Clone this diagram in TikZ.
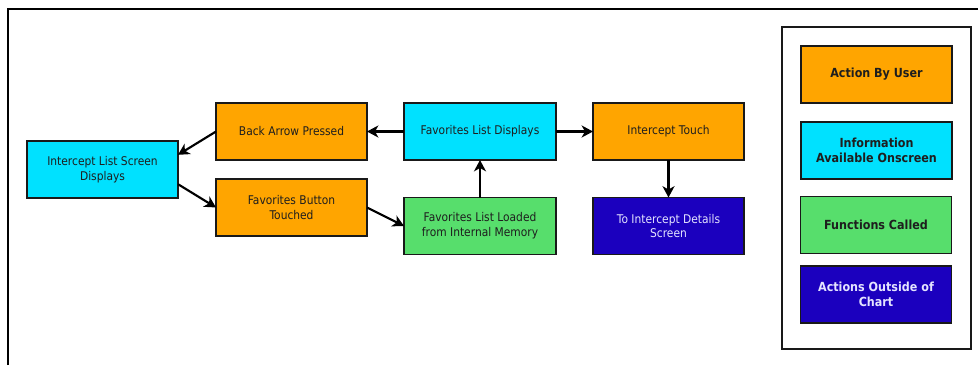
\documentclass[tikz,border=0pt]{standalone}
\usepackage{fontspec}
\setmainfont{DejaVu Sans}[FakeStretch=0.89]
\usetikzlibrary{arrows.meta}
\definecolor{useract}{HTML}{FFA500}
\definecolor{infoscr}{HTML}{00E1FF}
\definecolor{funccall}{HTML}{57DE6C}
\definecolor{outside}{HTML}{1B00BE}
\definecolor{inktext}{HTML}{1E1E1E}
\definecolor{lighttext}{HTML}{E4E4FF}
\tikzset{
  box/.style={draw=black!90, line width=1.1pt, rectangle, inner sep=0pt, outer sep=0pt,
    minimum width=113.25pt, minimum height=42.75pt, align=center,
    font=\fontsize{9pt}{11pt}\selectfont, text=inktext},
  legbox/.style={box, font=\fontsize{9.4pt}{11.6pt}\selectfont\bfseries},
  user/.style={fill=useract},
  info/.style={fill=infoscr},
  func/.style={fill=funccall},
  extern/.style={fill=outside, text=lighttext},
  arr/.style={line width=1.6pt, -{Stealth[length=8.5pt,width=9pt,inset=2.5pt]}}
}
\begin{document}
\begin{tikzpicture}[x=0.75pt, y=-0.75pt]
\useasboundingbox (0,0) rectangle (978,365);
% open frame along the top and left edges
\draw[line width=1.5pt] (8,365) coordinate (frameLow) -- (8,9) -- (978,9) coordinate (frameEnd);

% flow chart
\node[box, info] (ils) at (102.5,169.5) {Intercept List Screen\\Displays};
\node[box, user] (bap) at (291.5,131.5) {Back Arrow Pressed};
\node[box, user] (fbt) at (291.5,207.5) {Favorites Button\\Touched};
\node[box, info, minimum width=114pt] (fld) at (480,131.5) {Favorites List Displays};
\node[box, user] (itc) at (668.5,131.5) {Intercept Touch};
\node[box, func, minimum width=114pt] (fll) at (480,226) {Favorites List Loaded\\from Internal Memory};
\node[box, extern] (tid) at (668.5,226) {To Intercept Details\\Screen};

\draw[arr] (bap.west) -- (ils.11);
\draw[arr] (ils.-11) -- (fbt.west);
\draw[arr] (fbt.east) -- (fll.west);
\draw[arr] (fld.west) -- (bap.east);
\draw[arr] (fll.north) -- (fld.south);
\draw[arr] (fld.east) -- (itc.west);
\draw[arr] (itc.south) -- (tid.north);

% legend
\node[draw=black!90, line width=1.5pt, rectangle, inner sep=0pt, outer sep=0pt,
  minimum width=141.75pt, minimum height=241.5pt] (legend) at (876.5,188) {};
\node[legbox, user] (lgUser) at (876.5,74.5) {Action By User};
\node[legbox, info] (lgInfo) at (876.5,150.5) {Information\\Available Onscreen};
\node[legbox, func] (lgFunc) at (876,225) {Functions Called};
\node[legbox, extern] (lgOut) at (876,294.5) {Actions Outside of\\Chart};
\end{tikzpicture}
\end{document}
